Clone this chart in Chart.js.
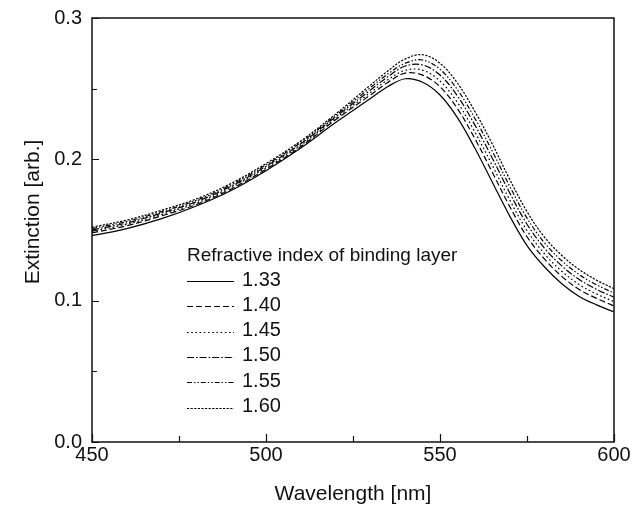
<!DOCTYPE html>
<html>
<head>
<meta charset="utf-8">
<script src="https://cdn.jsdelivr.net/npm/chart.js@4/dist/chart.umd.min.js"></script>
<style>
  html, body { margin: 0; padding: 0; background: #fff; }
  #wrap { width: 633px; height: 510px; }
</style>
</head>
<body>
<div id="wrap"><canvas id="myChart" width="633" height="510"></canvas></div>
<script>
(function(){
  'use strict';

  // wavelength grid [nm]
  const wavelengths = [450, 460, 470, 480, 490, 500, 510, 520, 530, 535, 540, 545,
                       550, 555, 560, 565, 570, 575, 580, 585, 590, 595, 600];

  // extinction for each refractive index of the binding layer
  const ext133 = [0.146, 0.151, 0.158, 0.167, 0.178, 0.192, 0.208, 0.226, 0.243, 0.2515, 0.257, 0.2545,
                  0.2455, 0.2295, 0.208, 0.184, 0.160, 0.139, 0.124, 0.112, 0.103, 0.097, 0.092];
  const ext140 = [0.148, 0.153, 0.160, 0.168, 0.179, 0.193, 0.209, 0.228, 0.2455, 0.2544, 0.261, 0.2596,
                  0.2514, 0.2359, 0.2148, 0.191, 0.1668, 0.1452, 0.1295, 0.1172, 0.1079, 0.1016, 0.0963];
  const ext145 = [0.149, 0.154, 0.161, 0.169, 0.180, 0.194, 0.210, 0.229, 0.2472, 0.2563, 0.263, 0.2631,
                  0.2554, 0.2403, 0.2194, 0.1959, 0.1714, 0.1496, 0.1332, 0.1208, 0.1114, 0.1047, 0.0993];
  const ext150 = [0.150, 0.155, 0.162, 0.170, 0.181, 0.195, 0.211, 0.230, 0.249, 0.2584, 0.266, 0.2668,
                  0.2597, 0.2449, 0.2244, 0.201, 0.1764, 0.1541, 0.1372, 0.1246, 0.115, 0.108, 0.1024];
  const ext155 = [0.151, 0.156, 0.163, 0.171, 0.182, 0.196, 0.212, 0.231, 0.2507, 0.2604, 0.268, 0.2703,
                  0.2637, 0.2493, 0.2291, 0.2059, 0.1811, 0.1584, 0.141, 0.1282, 0.1184, 0.1112, 0.1054];
  const ext160 = [0.152, 0.157, 0.164, 0.172, 0.183, 0.197, 0.213, 0.232, 0.2525, 0.2625, 0.271, 0.274,
                  0.268, 0.254, 0.234, 0.211, 0.186, 0.163, 0.145, 0.132, 0.122, 0.1145, 0.1085];

  const indexLabels = ['1.33', '1.40', '1.45', '1.50', '1.55', '1.60'];
  const seriesValues = [ext133, ext140, ext145, ext150, ext155, ext160];
  const dashes = [[], [6, 3], [1.6, 2.6], [7, 2, 1.6, 2], [5, 2, 1.4, 2, 1.4, 2], [2.2, 1.4]];

  // minor/major tick positions on the axes
  const xTickValues = [450, 475, 500, 525, 550, 575, 600];
  const yTickValues = [0, 0.05, 0.1, 0.15, 0.2, 0.25, 0.3];

  const FONT = "'Liberation Sans', Arial, sans-serif";

  const datasets = seriesValues.map(function(vals, i){
    return {
      label: indexLabels[i],
      data: wavelengths.map(function(w, k){ return {x: w, y: vals[k]}; }),
      borderColor: '#000',
      borderWidth: 1.2,
      borderDash: dashes[i],
      pointRadius: 0,
      fill: false,
      tension: 0.35
    };
  });

  const framePlugin = {
    id: 'frame',
    afterDraw: function(chart){
      const c = chart.ctx, a = chart.chartArea;
      const xs = chart.scales.x, ys = chart.scales.y;
      c.save();
      c.strokeStyle = '#111';
      c.lineWidth = 1.5;
      c.strokeRect(a.left, a.top, a.right - a.left, a.bottom - a.top);

      // inward ticks
      c.lineWidth = 1.2;
      c.beginPath();
      xTickValues.forEach(function(v){
        const px = Math.round(xs.getPixelForValue(v)) + 0.5;
        const len = (v % 50 === 0) ? 8 : 6;
        c.moveTo(px, a.bottom);
        c.lineTo(px, a.bottom - len);
      });
      yTickValues.forEach(function(v){
        const py = Math.round(ys.getPixelForValue(v)) + 0.5;
        const len = (Math.round(v * 100) % 10 === 0) ? 7 : 5;
        c.moveTo(a.left, py);
        c.lineTo(a.left + len, py);
      });
      c.stroke();

      // y axis title
      c.fillStyle = '#111';
      c.font = '21px ' + FONT;
      c.textAlign = 'center';
      c.textBaseline = 'middle';
      c.translate(33, 212);
      c.rotate(-Math.PI / 2);
      c.fillText('Extinction [arb.]', 0, 0);
      c.restore();

      // legend
      c.save();
      c.fillStyle = '#111';
      c.strokeStyle = '#000';
      c.lineWidth = 1.2;
      c.font = '19px ' + FONT;
      c.textAlign = 'left';
      c.textBaseline = 'middle';
      c.fillText('Refractive index of binding layer', 187, 256);
      chart.data.datasets.forEach(function(ds, i){
        const ty = 280 + i * 25.3;
        const y = Math.round(ty + 1) + 0.5;
        c.setLineDash(ds.borderDash);
        c.beginPath();
        c.moveTo(187, y);
        c.lineTo(234, y);
        c.stroke();
        c.setLineDash([]);
        c.font = '20px ' + FONT;
        c.fillText(ds.label, 242, ty);
      });
      c.restore();
    }
  };

  new Chart(document.getElementById('myChart'), {
    type: 'line',
    data: { datasets: datasets },
    options: {
      responsive: false,
      animation: false,
      devicePixelRatio: 1,
      layout: { padding: { top: 18, right: 19, left: 0, bottom: 0 } },
      plugins: {
        legend: { display: false },
        tooltip: { enabled: false }
      },
      scales: {
        x: {
          type: 'linear',
          min: 450,
          max: 600,
          grid: { display: false, drawTicks: false },
          border: { display: false },
          ticks: {
            stepSize: 50,
            padding: 1,
            color: '#111',
            font: { family: FONT, size: 20 }
          },
          title: {
            display: true,
            text: 'Wavelength [nm]',
            color: '#111',
            font: { family: FONT, size: 21 },
            padding: { top: 0, bottom: 3 }
          },
          afterFit: function(scale){
            scale.height = 68;
            scale.paddingLeft = 0;
            scale.paddingRight = 0;
          }
        },
        y: {
          min: 0,
          max: 0.3,
          grid: { display: false, drawTicks: false },
          border: { display: false },
          ticks: {
            stepSize: 0.1,
            padding: 10,
            color: '#111',
            font: { family: FONT, size: 20 },
            callback: function(v){ return v.toFixed(1); }
          },
          afterFit: function(scale){
            scale.width = 92;
            scale.paddingTop = 0;
            scale.paddingBottom = 0;
          }
        }
      }
    },
    plugins: [framePlugin]
  });
})();
</script>
</body>
</html>
